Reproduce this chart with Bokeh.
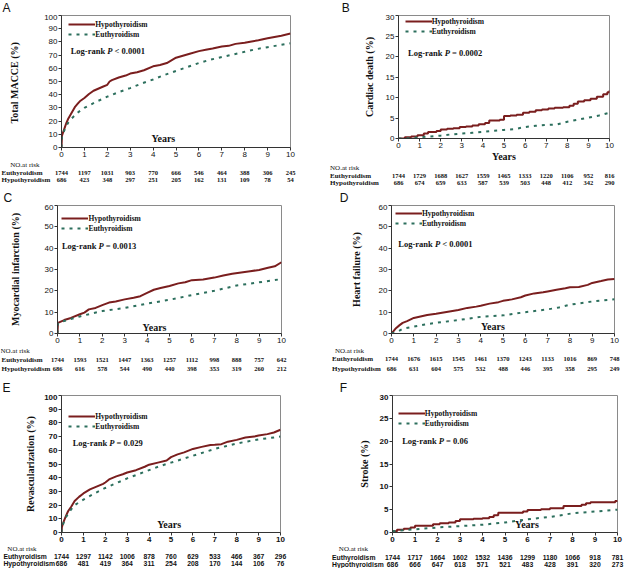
import numpy as np
from bokeh.plotting import figure
from bokeh.models import (Range1d, Label, ColumnDataSource, Legend, LegendItem, FixedTicker)
from bokeh.layouts import column, row
from bokeh.core.properties import value
from bokeh.embed import file_html
from bokeh.resources import INLINE

risk_years = list(range(11))

# ---------------- A: Total MACCE ----------------
a_hypo_t = [0, 0.02, 0.1, 0.2, 0.3, 0.4, 0.5, 0.6, 0.7, 0.8, 1.0, 1.2, 1.4, 1.6, 1.8, 2.0, 2.1, 2.2,
            2.5, 2.8, 3.0, 3.3, 3.6, 4.0, 4.3, 4.6, 5.0, 5.3, 5.6, 6.0, 6.3, 6.6, 7.0, 7.3, 7.6,
            8.0, 8.3, 8.6, 9.0, 9.3, 9.6, 10.0]
a_hypo_v = [0, 9, 13, 18, 22, 25, 28, 31, 33, 35, 37.5, 40.5, 43, 44.5, 46, 47.5, 50, 51,
            53, 54.5, 56, 57, 58.5, 61.5, 62.5, 64, 68, 69.5, 71, 73, 74, 75, 76.5, 77, 78.5,
            79.3, 80.3, 81.3, 82.7, 83.7, 84.7, 86.3]
a_eu_t = [0, 0.02, 0.1, 0.2, 0.3, 0.5, 0.75, 1.0, 1.5, 2.0, 2.5, 3.0, 3.5, 4.0, 4.5, 5.0, 5.5,
          6.0, 6.5, 7.0, 7.5, 8.0, 8.5, 9.0, 9.5, 10.0]
a_eu_v = [0, 8, 12, 16, 19, 23, 27, 30, 34.5, 38.5, 42, 45, 48.5, 51.5, 55, 58, 61,
          64, 66.5, 68.5, 70.5, 72.5, 74.5, 76, 77.5, 79]
a_risk_eu = [1744, 1197, 1031, 903, 770, 666, 546, 464, 388, 306, 245]
a_risk_hypo = [686, 423, 348, 297, 251, 205, 162, 131, 109, 78, 54]

# ---------------- B: Cardiac death ----------------
b_hypo_t = [0, 0.3, 0.6, 0.9, 1.2, 1.4, 1.8, 2.0, 2.3, 2.6, 2.9, 3.2, 3.5, 3.8, 4.1, 4.3, 4.8,
            5.0, 5.3, 5.6, 5.9, 6.2, 6.5, 6.8, 7.1, 7.4, 7.8, 8.1, 8.3, 8.5, 8.8, 9.1, 9.4,
            9.7, 9.9, 10.0]
b_hypo_v = [0, 0.3, 0.5, 0.8, 1.2, 1.6, 1.8, 2.2, 2.4, 2.5, 2.8, 2.9, 3.2, 3.5, 3.8, 4.4, 4.6,
            5.5, 5.6, 5.8, 6.3, 6.5, 6.9, 7.1, 7.3, 7.5, 7.6, 8.0, 8.5, 9.0, 9.3, 9.7, 10.2,
            10.8, 11.3, 11.7]
b_eu_t = [0, 0.5, 1.0, 1.5, 2.0, 2.5, 3.0, 3.5, 4.0, 4.5, 5.0, 5.5, 6.0, 6.5, 7.0, 7.5, 8.0,
          8.5, 9.0, 9.5, 10.0]
b_eu_v = [0, 0.1, 0.3, 0.5, 0.7, 1.0, 1.2, 1.4, 1.6, 1.9, 2.1, 2.3, 2.8, 3.1, 3.3, 3.4, 4.1,
          4.6, 5.1, 5.6, 6.3]
b_risk_eu = [1744, 1729, 1688, 1627, 1559, 1465, 1333, 1220, 1106, 952, 816]
b_risk_hypo = [686, 674, 659, 633, 587, 539, 503, 448, 412, 342, 290]

# ---------------- C: Myocardial infarction ----------------
c_hypo_t = [0, 0.02, 0.3, 0.6, 1.0, 1.2, 1.4, 1.7, 2.0, 2.3, 2.6, 3.0, 3.4, 3.7, 4.0, 4.3, 4.6,
            5.0, 5.4, 5.7, 6.0, 6.5, 7.0, 7.4, 7.8, 8.2, 8.6, 9.0, 9.4, 9.7, 10.0]
c_hypo_v = [0, 5, 6.3, 7.3, 9.0, 9.8, 11.3, 12, 13.3, 14.5, 15, 16, 16.8, 17.5, 19, 20.5, 21.3,
            22.3, 23.5, 24, 25, 25.3, 26.2, 27.2, 28, 28.6, 29.2, 29.8, 30.8, 31.5, 33.4]
c_eu_t = [0, 0.02, 0.5, 1.0, 1.5, 2.0, 3.0, 4.0, 5.0, 6.0, 7.0, 8.0, 9.0, 10.0]
c_eu_v = [0, 5, 6.5, 8, 9.3, 10.5, 12, 14, 15.8, 18, 20, 22.5, 24, 25.5]
c_risk_eu = [1744, 1593, 1521, 1447, 1363, 1257, 1112, 998, 888, 757, 642]
c_risk_hypo = [686, 616, 578, 544, 490, 440, 398, 353, 319, 260, 212]

# ---------------- D: Heart failure ----------------
d_hypo_t = [0, 0.1, 0.2, 0.35, 0.5, 0.7, 1.0, 1.3, 1.6, 2.0, 2.4, 2.8, 3.0, 3.4, 3.8, 4.0, 4.4,
            4.8, 5.0, 5.4, 5.8, 6.0, 6.4, 6.8, 7.0, 7.4, 7.8, 8.0, 8.4, 8.8, 9.0, 9.4, 9.7, 10.0]
d_hypo_v = [0, 1.2, 2.5, 3.8, 5, 5.8, 7.3, 8, 8.7, 9.3, 10, 10.7, 11, 12, 12.6, 13, 14,
            14.7, 15.3, 16, 17, 17.8, 18.8, 19.3, 19.7, 20.5, 21.2, 21.7, 21.8, 22.8, 23.7, 24.6,
            25.3, 25.6]
d_eu_t = [0, 0.3, 0.5, 1.0, 1.5, 2.0, 3.0, 4.0, 5.0, 6.0, 7.0, 7.5, 8.0, 9.0, 10.0]
d_eu_v = [0, 1, 2.2, 3.2, 4.2, 5, 6.3, 7.8, 8.5, 10, 11.3, 12.2, 13.5, 15, 16]
d_risk_eu = [1744, 1676, 1615, 1545, 1461, 1370, 1243, 1133, 1016, 869, 748]
d_risk_hypo = [686, 631, 604, 575, 532, 488, 446, 395, 358, 295, 249]

# ---------------- E: Revascularization ----------------
e_hypo_t = [0, 0.02, 0.1, 0.2, 0.3, 0.45, 0.6, 0.8, 1.0, 1.3, 1.6, 1.9, 2.0, 2.2, 2.5, 2.8, 3.0,
            3.4, 3.8, 4.0, 4.4, 4.8, 5.0, 5.3, 5.6, 6.0, 6.4, 6.8, 7.0, 7.3, 7.6, 8.0, 8.4, 8.8,
            9.0, 9.4, 9.7, 10.0]
e_hypo_v = [0, 4, 8, 12, 15.5, 19, 23, 26, 28.5, 31.5, 33.5, 35.5, 36.5, 39, 41, 42.5, 43.8,
            45.5, 48, 49.5, 51, 52.5, 55, 57, 58.5, 61, 62.5, 63.8, 64, 64.5, 66.3, 67.6, 69.3, 70,
            70.8, 71.8, 73, 75]
e_eu_t = [0, 0.02, 0.2, 0.4, 0.6, 1.0, 1.5, 2.0, 2.5, 3.0, 3.5, 4.0, 4.5, 5.0, 5.5, 6.0, 6.5,
          7.0, 7.5, 8.0, 8.5, 9.0, 9.5, 10.0]
e_eu_v = [0, 4, 11, 16, 20, 24, 28.5, 32.5, 36, 39.5, 42.5, 45.5, 48.5, 51, 53.5, 56, 58.5,
          61, 63, 65, 66.5, 68, 69, 70]
e_risk_eu = [1744, 1297, 1142, 1006, 878, 760, 629, 533, 466, 367, 296]
e_risk_hypo = [686, 481, 419, 364, 311, 254, 208, 170, 144, 106, 76]

# ---------------- F: Stroke ----------------
f_hypo_t = [0, 0.2, 0.5, 0.8, 1.0, 1.8, 2.1, 2.5, 2.8, 3.0, 3.6, 4.0, 4.3, 4.5, 4.7, 5.8, 6.0,
            6.6, 7.0, 7.6, 8.4, 8.6, 8.8, 9.9, 10.0]
f_hypo_v = [0.3, 0.6, 0.8, 1.1, 1.5, 1.8, 2.0, 2.2, 2.5, 2.9, 3.0, 3.1, 3.4, 3.8, 4.3, 4.6, 4.9,
            5.1, 5.3, 5.8, 6.1, 6.4, 6.6, 6.9, 7.0]
f_eu_t = [0, 0.5, 1.0, 2.0, 3.0, 4.0, 5.0, 6.0, 7.0, 8.0, 9.0, 10.0]
f_eu_v = [0.3, 0.5, 0.7, 1.1, 1.4, 1.7, 2.2, 2.9, 3.4, 4.2, 4.6, 5.0]
f_risk_eu = [1744, 1717, 1664, 1602, 1532, 1436, 1299, 1180, 1066, 918, 781]
f_risk_hypo = [686, 666, 647, 618, 571, 521, 483, 428, 391, 320, 273]

HYPO = "#7a1e1e"
EU = "#2c6f5d"
INK = "#111111"
SERIF = "Liberation Serif"
SANS = "Liberation Sans"
S = 0.975      # reference px -> page px
HH = 14        # header strip holding the panel letter

# geom = (W, H, L, R, frame_bottom, tick_border, row_gap)
specs = [
    dict(letter="A", ylabel="Total  MACCE (%)", ymax=100, ystep=10, step=False, p="< 0.0001",
         data=(a_hypo_t, a_hypo_v, a_eu_t, a_eu_v, a_risk_eu, a_risk_hypo),
         geom=(312, 190, 61, 22, 147, 14, 7.5), letter_x=2, ytitle_x=17, leg=(70, 25),
         logrank=(72, 52), years=(167, 142), no_pos=(10, 162), row_x=1, rows=(171, 179),
         sans_table=False, bold_ticks=False),
    dict(letter="B", ylabel="Cardiac death (%)", ymax=30, ystep=5, step=True, p="= 0.0002",
         data=(b_hypo_t, b_hypo_v, b_eu_t, b_eu_v, b_risk_eu, b_risk_hypo),
         geom=(312, 190, 86, 15, 139, 25, 7.5), letter_x=30, ytitle_x=60, leg=(95, 23),
         logrank=(98, 54), years=None, no_pos=(18, 158), row_x=18, rows=(171, 178),
         sans_table=False, bold_ticks=False),
    dict(letter="C", ylabel="Myocardial infarction (%)", ymax=60, ystep=10, step=False, p="= 0.0013",
         data=(c_hypo_t, c_hypo_v, c_eu_t, c_eu_v, c_risk_eu, c_risk_hypo),
         geom=(312, 190, 57, 31, 143, 14, 7.5), letter_x=3, ytitle_x=17, leg=(63, 29),
         logrank=(63, 57), years=(158, 140), no_pos=(0, 162), row_x=1, rows=(174, 183),
         sans_table=False, bold_ticks=False),
    dict(letter="D", ylabel="Heart failure (%)", ymax=60, ystep=10, step=False, p="< 0.0001",
         data=(d_hypo_t, d_hypo_v, d_eu_t, d_eu_v, d_risk_eu, d_risk_hypo),
         geom=(312, 190, 79, 10, 143, 14, 7.5), letter_x=28, ytitle_x=47, leg=(85, 24),
         logrank=(88, 55), years=(185, 139), no_pos=(23, 159), row_x=20, rows=(173, 183),
         sans_table=False, bold_ticks=False),
    dict(letter="E", ylabel="Revascularization (%)", ymax=100, ystep=10, step=False, p="= 0.029",
         data=(e_hypo_t, e_hypo_v, e_eu_t, e_eu_v, e_risk_eu, e_risk_hypo),
         geom=(312, 188, 61, 32, 152, 13, 6.5), letter_x=2, ytitle_x=33, leg=(70, 37),
         logrank=(74, 64), years=(173, 148), no_pos=(7, 172), row_x=3, rows=(181, 187.5),
         sans_table=True, bold_ticks=True),
    dict(letter="F", ylabel="Stroke (%)", ymax=30, ystep=5, step=True, p="= 0.06",
         data=(f_hypo_t, f_hypo_v, f_eu_t, f_eu_v, f_risk_eu, f_risk_hypo),
         geom=(312, 188, 80, 7, 152, 13, 6.5), letter_x=28, ytitle_x=55, leg=(88, 34),
         logrank=(92, 62), years=(220, 148), no_pos=(27, 172), row_x=20, rows=(182, 187.5),
         sans_table=True, bold_ticks=True),
]


def no_align(f):
    if "frame_align" in f.properties():
        f.frame_align = False
    return f


def blank(width, height, xr, yr):
    f = figure(width=width, height=height, x_range=xr, y_range=yr,
               x_axis_type=None, y_axis_type=None, output_backend="svg",
               toolbar_location=None, tools="", min_border=0)
    f.outline_line_color = None
    f.grid.visible = False
    return no_align(f)


def txt(f, x, y, text, font, size, style="normal", align="left", baseline="middle"):
    f.text(x=[x], y=[y], text=[text], text_font=value(font), text_font_size=value(size),
           text_font_style=value(style), text_align=align, text_baseline=baseline,
           text_color=INK)


def panel(spec):
    W, H, L, R, fb, tb, gap = spec["geom"]
    ymax, ystep = spec["ymax"], spec["ystep"]
    ft = HH + 1                      # frame top (page px within the panel)
    fw, fh = W - L - R, fb - ft
    hp = fb + tb - HH                # plot figure height
    tab_top = fb + tb
    ht = H - tab_top
    hypo_t, hypo_v, eu_t, eu_v, risk_eu, risk_hypo = spec["data"]

    # ---- header strip: panel letter
    head = blank(W, HH, Range1d(0, W), Range1d(0, HH))
    txt(head, spec["letter_x"] * S, HH / 2, spec["letter"], SANS, "12px")

    # ---- main plot
    p = figure(width=W, height=hp, min_border_left=L, min_border_right=R,
               min_border_top=ft - HH, min_border_bottom=tb,
               x_range=Range1d(0, 10), y_range=Range1d(0, ymax),
               output_backend="svg", toolbar_location=None, tools="")
    no_align(p)

    def dx(px):
        return (px * S - L) / fw * 10

    def dy(py):
        return (fb - py * S) / fh * ymax

    if spec["step"]:
        r1 = p.step(hypo_t, hypo_v, mode="after", line_color=HYPO, line_width=2)
    else:
        r1 = p.line(hypo_t, hypo_v, line_color=HYPO, line_width=2)
    r2 = p.line(eu_t, eu_v, line_color=EU, line_width=2, line_dash="3 5")

    p.grid.visible = False
    p.xaxis.ticker = FixedTicker(ticks=risk_years)
    p.yaxis.ticker = FixedTicker(ticks=list(range(0, ymax + 1, ystep)))
    p.axis.minor_tick_line_color = None
    p.axis.major_tick_in = 0
    p.axis.major_tick_out = 3
    p.axis.axis_line_color = "#333333"
    p.axis.major_tick_line_color = "#333333"
    p.axis.major_label_text_font = SANS
    p.axis.major_label_text_font_size = "8px"
    p.axis.major_label_text_color = INK
    if spec["bold_ticks"]:
        p.axis.major_label_text_font_style = "bold"
    p.axis.major_label_standoff = 1
    p.outline_line_color = "#8a8a8a"

    # y title as the axis label, pushed out to the reference position
    lw = 13.3 if ymax >= 100 else 8.9
    p.yaxis.axis_label = spec["ylabel"]
    p.yaxis.axis_label_text_font = SERIF
    p.yaxis.axis_label_text_font_style = "bold"
    p.yaxis.axis_label_text_font_size = "10px"
    p.yaxis.axis_label_text_color = INK
    p.yaxis.axis_label_standoff = int(max(0, L - spec["ytitle_x"] * S - 4 - lw - 6))

    if spec["years"] is None:
        p.xaxis.axis_label = "Years"
        p.xaxis.axis_label_text_font = SERIF
        p.xaxis.axis_label_text_font_style = "bold"
        p.xaxis.axis_label_text_font_size = "10px"
        p.xaxis.axis_label_text_color = INK
        p.xaxis.axis_label_standoff = 0
    else:
        yx, yy = spec["years"]
        p.add_layout(Label(x=dx(yx), y=dy(yy), text="Years", text_font=SERIF,
                           text_font_style="bold", text_font_size="10px", text_align="center",
                           text_baseline="middle", text_color=INK))

    gx = spec["leg"][0] * S - L
    gy = fh - (spec["leg"][1] * S - ft - 5) - 20
    legend = Legend(items=[LegendItem(label="Hypothyroidism", renderers=[r1]),
                           LegendItem(label="Euthyroidism", renderers=[r2])],
                    location=(gx, gy), orientation="vertical", glyph_width=27, glyph_height=10,
                    label_height=10, label_width=10, spacing=0, padding=0, margin=0,
                    label_standoff=0, border_line_color=None, background_fill_alpha=0,
                    label_text_font=SERIF, label_text_font_style="bold",
                    label_text_font_size="7.5px", label_text_color=INK)
    p.add_layout(legend)

    kx, ky = dx(spec["logrank"][0]), dy(spec["logrank"][1])
    for t, off, style in [("Log-rank", 0, "bold"), ("P", 36.6, "bold italic"),
                          (spec["p"], 43.9, "bold")]:
        p.add_layout(Label(x=kx, y=ky, x_offset=off, text=t, text_font=SERIF,
                           text_font_style=style, text_font_size="8.5px",
                           text_baseline="middle", text_align="left", text_color=INK))

    # ---- risk table strip (x range aligned with the plot's frame)
    tab = blank(W, ht, Range1d(-L / fw * 10, (W - L) / fw * 10), Range1d(0, ht))

    def tx_(px):
        return (px * S - L) / fw * 10

    def ty_(y):
        return ht - (y - tab_top)

    y_no = max(spec["no_pos"][1] * S, tab_top + gap / 2)
    y_eu = max(spec["rows"][0] * S, y_no + gap)
    y_hy = min(max(spec["rows"][1] * S, y_eu + gap), H - 4.2)

    txt(tab, tx_(spec["no_pos"][0]), ty_(y_no), "NO.at risk", SERIF, "7px")
    if spec["sans_table"]:
        tfont, s_lab, s_num = SANS, "6.8px", "6.8px"
    else:
        tfont, s_lab, s_num = SERIF, "7px", "6.5px"
    for name, ry, counts in [("Euthyroidism", y_eu, risk_eu),
                             ("Hypothyroidism", y_hy, risk_hypo)]:
        txt(tab, tx_(spec["row_x"]), ty_(ry), name, tfont, s_lab, "bold")
        src = ColumnDataSource(dict(x=risk_years, y=[ty_(ry)] * len(risk_years),
                                    t=[str(c) for c in counts]))
        tab.text(x="x", y="y", text="t", source=src, text_font=value(tfont),
                 text_font_size=value(s_num), text_font_style=value("bold"),
                 text_align="center", text_baseline="middle", text_color=INK)

    return column(head, p, tab, spacing=0)


panels = [panel(s) for s in specs]
layout = column(row(panels[0], panels[1], spacing=0),
                row(panels[2], panels[3], spacing=0),
                row(panels[4], panels[5], spacing=0), spacing=0)

open("out.html", "w").write(file_html(layout, INLINE))
